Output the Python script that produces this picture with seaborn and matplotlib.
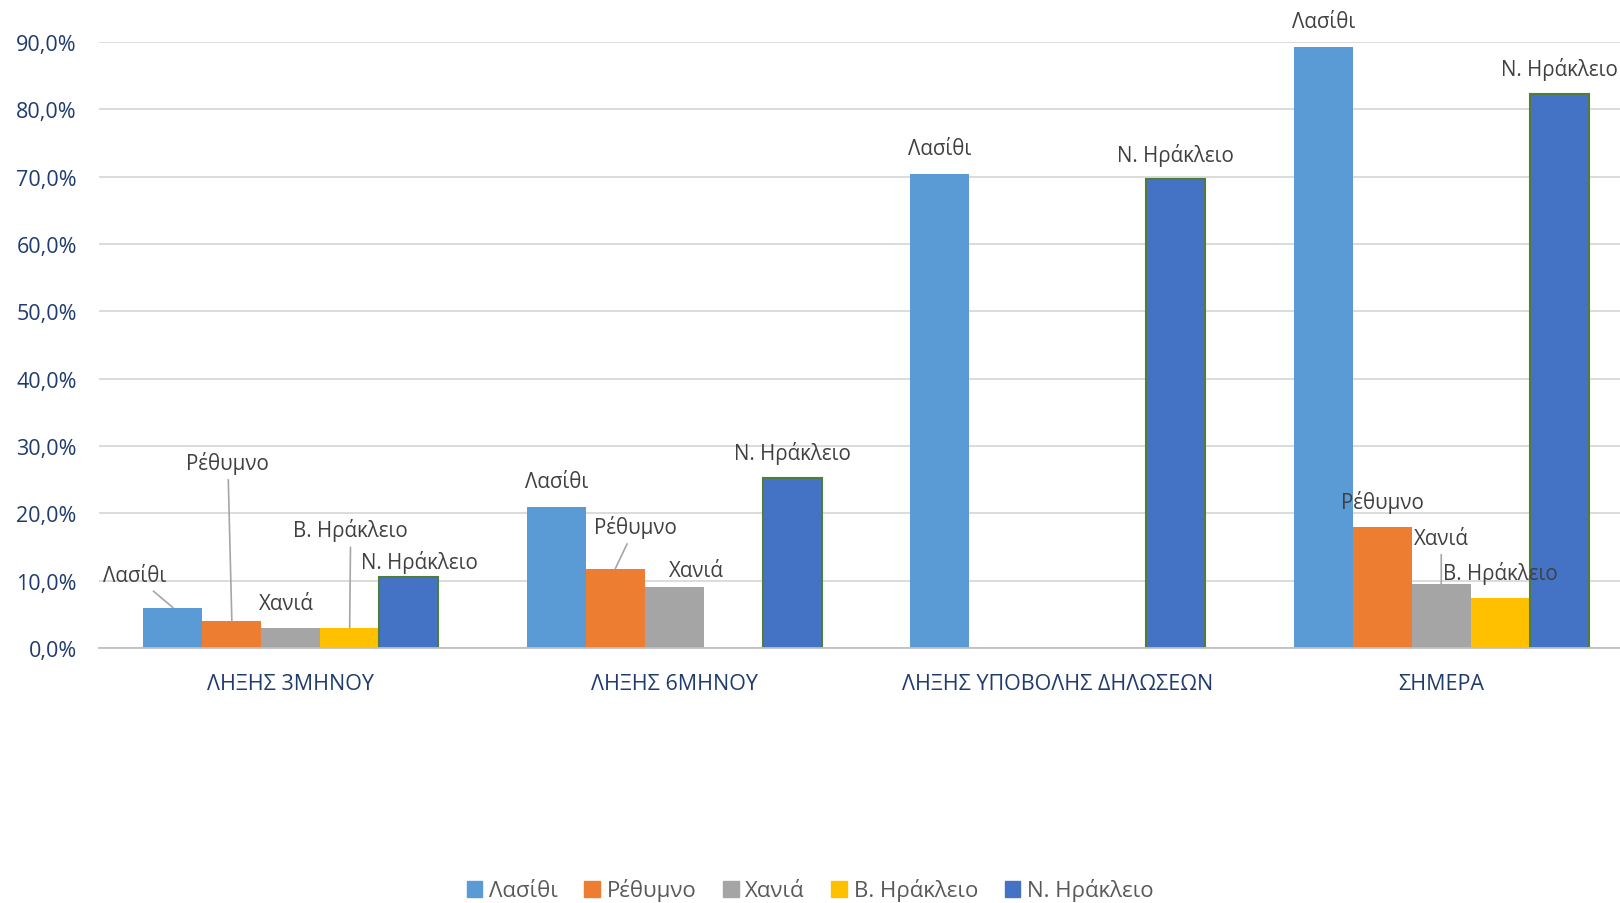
import numpy as np
import pandas as pd
import matplotlib
matplotlib.use("Agg")
import matplotlib.pyplot as plt
import seaborn as sns

categories = ["ΛΗΞΗΣ 3ΜΗΝΟΥ", "ΛΗΞΗΣ 6ΜΗΝΟΥ", "ΛΗΞΗΣ ΥΠΟΒΟΛΗΣ ΔΗΛΩΣΕΩΝ", "ΣΗΜΕΡΑ"]
series = ["Λασίθι", "Ρέθυμνο", "Χανιά", "Β. Ηράκλειο", "Ν. Ηράκλειο"]

lasithi = [6.0, 21.0, 70.4, 89.3]
rethymno = [4.0, 11.8, np.nan, 18.0]
chania = [3.0, 9.1, np.nan, 9.5]
v_irakleio = [3.0, np.nan, np.nan, 7.5]
n_irakleio = [10.5, 25.3, 69.6, 82.3]

colors = ["#5B9BD5", "#ED7D31", "#A5A5A5", "#FFC000", "#4472C4"]
yticks = [0, 10, 20, 30, 40, 50, 60, 70, 80, 90]

# label placement (offset pixels from bar top centre, leader line or not)
label_pos = {
    (0, "Λασίθι"): (-38, 32, True),
    (0, "Ρέθυμνο"): (-4, 159, True),
    (0, "Χανιά"): (-4, 24, False),
    (0, "Β. Ηράκλειο"): (1, 98, True),
    (0, "Ν. Ηράκλειο"): (11, 16, False),
    (1, "Ρέθυμνο"): (20, 42, True),
    (1, "Χανιά"): (22, 16, False),
    (3, "Χανιά"): (0, 46, True),
}

values = {"Λασίθι": lasithi, "Ρέθυμνο": rethymno, "Χανιά": chania,
          "Β. Ηράκλειο": v_irakleio, "Ν. Ηράκλειο": n_irakleio}
rows = []
for s in series:
    for c, v in zip(categories, values[s]):
        rows.append({"category": c, "series": s, "value": v})
df = pd.DataFrame(rows).dropna()

sns.set_theme(style="white")
plt.rcParams["font.family"] = ["Open Sans", "DejaVu Sans"]

fig = plt.figure(figsize=(16.2, 9.04), dpi=100)
ax = fig.add_axes([99 / 1620, 1 - 649 / 904, 1534 / 1620, (649 - 43) / 904])

sns.barplot(data=df, x="category", y="value", hue="series", order=categories,
            hue_order=series, palette=colors, width=0.768, saturation=1,
            errorbar=None, ax=ax, linewidth=0)

ax.set_ylim(0, 90)
ax.set_yticks(yticks)
ax.set_yticklabels([f"{t:.1f}%".replace(".", ",") for t in yticks])
ax.set_xlabel("")
ax.set_ylabel("")
ax.grid(axis="y", color="#D9D9D9", linewidth=1.3)
ax.set_axisbelow(True)
for side in ["left", "right", "top"]:
    ax.spines[side].set_visible(False)
ax.spines["bottom"].set_color("#BFBFBF")
ax.spines["bottom"].set_linewidth(1.3)
ax.tick_params(axis="y", length=0, labelsize=15.5, labelcolor="#203C6E", pad=16)
ax.tick_params(axis="x", length=0, labelsize=15.5, labelcolor="#203C6E", pad=18)

for cont, name in zip(ax.containers, series):
    for bar in cont:
        h = bar.get_height()
        if np.isnan(h):
            continue
        cx = bar.get_x() + bar.get_width() / 2
        ci = int(round(cx))
        if name == "Ν. Ηράκλειο":
            bar.set_edgecolor("#4F7D3A")
            bar.set_linewidth(1.5)
        dx, dy, leader = label_pos.get((ci, name), (0, 25, False))
        arrow = dict(arrowstyle="-", color="#A6A6A6", lw=1.2, shrinkA=2, shrinkB=0) if leader else None
        ax.annotate(name, xy=(cx, h), xytext=(dx, dy), textcoords="offset pixels",
                    ha="center", va="center", fontsize=14.8, color="#404040",
                    arrowprops=arrow, annotation_clip=False, zorder=5)

ax.get_legend().remove()
handles = [plt.Rectangle((0, 0), 1, 1, color=c) for c in colors]
fig.legend(handles, series, loc="center", bbox_to_anchor=(0.5, 1 - 891 / 904), ncol=5,
           frameon=False, fontsize=16, labelcolor="#595959", handlelength=0.7,
           handleheight=0.7, handletextpad=0.3, columnspacing=1.2)

fig.savefig("out.png", dpi=100)
